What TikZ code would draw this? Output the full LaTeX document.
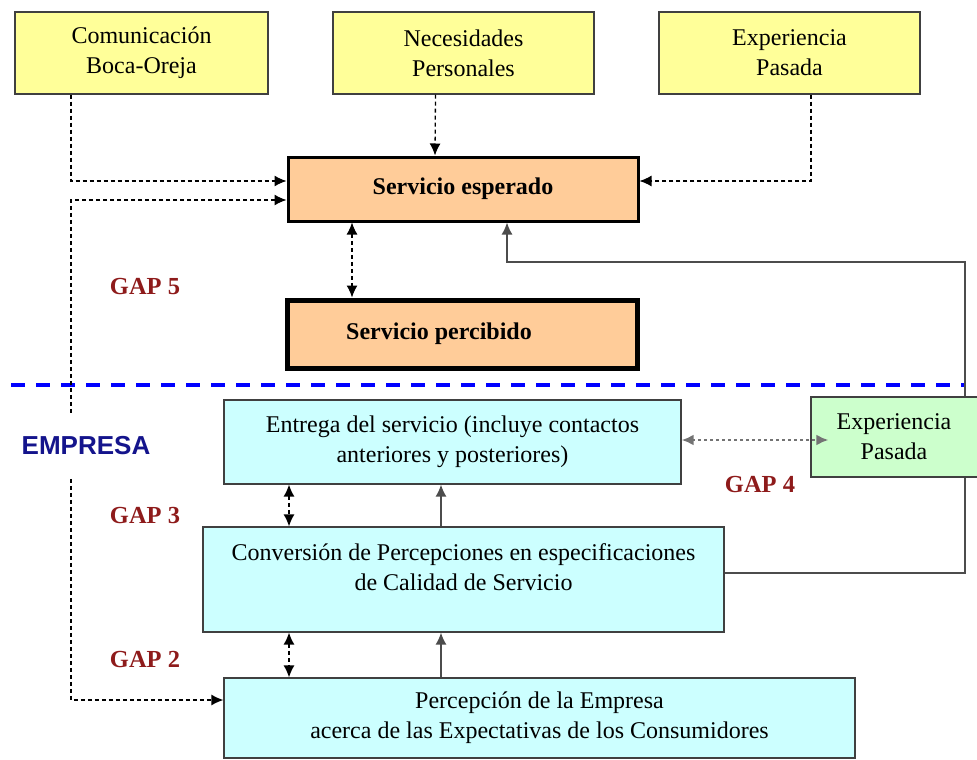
\documentclass[tikz,border=0pt]{standalone}
\usepackage{fontspec}
\setmainfont{Liberation Serif}
\newfontfamily\empresafont{Liberation Sans}
\usetikzlibrary{arrows.meta}
\definecolor{amarillo}{HTML}{FFFF99}
\definecolor{salmon}{HTML}{FFCC99}
\definecolor{celeste}{HTML}{CCFFFF}
\definecolor{verdeclaro}{HTML}{CCFFCC}
\definecolor{rojogap}{HTML}{8E1B1B}
\definecolor{azulempresa}{HTML}{14148C}
\begin{document}
\begin{tikzpicture}[x=1pt,y=-1pt,
   box/.style={draw=black!75,line width=1.2pt,align=center,inner sep=0pt,
               font=\fontsize{24}{30}\selectfont},
   cliente/.style={box,fill=amarillo,minimum width=261pt,minimum height=82pt},
   servicio/.style={box,draw=black,fill=salmon,minimum width=350pt},
   empresa/.style={box,fill=celeste},
   gap/.style={text=rojogap,font=\fontsize{24.5}{28}\selectfont\bfseries},
   tip/.style={-{Latex[length=12pt,width=11pt]}},
   flujo/.style={tip,dash pattern=on 4pt off 3pt,line width=1.3pt},
   doble/.style={flujo,{Latex[length=12pt,width=11pt]}-{Latex[length=12pt,width=11pt]}},
   solido/.style={tip,draw=black!70,line width=1.6pt},
   frontera/.style={draw=blue,line width=4pt,dash pattern=on 14pt off 11pt}]

\useasboundingbox (0,0) rectangle (977,760);

% columnas de los conectores
\coordinate (izq) at (71,0);
\coordinate (colG) at (352,0);
\coordinate (colA) at (289,0);
\coordinate (colB) at (441,0);

% clientes
\node[cliente,minimum width=253pt] (boca) at (141.5,53) {Comunicación\\Boca-Oreja};
\node[cliente] (neces) at (463.5,53) {Necesidades\\Personales};
\node[cliente] (exper) at (789.5,53) {Experiencia\\Pasada};

\node[servicio,line width=3pt,minimum height=64pt] (esp) at (463,189)
   {\bfseries Servicio esperado};
\node[servicio,line width=5pt,minimum height=68pt] (perc) at (462,334)
   {\bfseries Servicio percibido\hspace*{46pt}};

% empresa
\node[empresa,minimum width=457pt,minimum height=84pt] (entrega) at (452.5,442)
   {Entrega del servicio (incluye contactos\\anteriores y posteriores)};
\node[empresa,minimum width=521pt,minimum height=105pt] (conv) at (463.5,579.5)
   {Conversión de Percepciones en especificaciones\\de Calidad de Servicio\\[-6pt]\mbox{}};
\node[empresa,minimum width=631pt,minimum height=80pt] (pcp) at (539.5,718)
   {Percepción de la Empresa\\acerca de las Expectativas de los Consumidores};

\draw[frontera] (11,385) -- (965,385);

\draw[flujo] (boca.south -| izq) |- ([yshift=8pt]esp.west);
\draw[flujo] ([xshift=-28pt]neces.south) -- ([xshift=-28pt]esp.north);
\draw[flujo] ([xshift=21.5pt]exper.south) |- ([yshift=8pt]esp.east);
\draw[doble] ([yshift=-11pt]esp.west) -| (71,700) -- ([yshift=18pt]pcp.west);
\draw[doble] (esp.south -| colG) -- (perc.north -| colG);

\draw[solido] ([yshift=6.5pt]conv.east) -| (965,262) -| ([xshift=44pt]esp.south);

\node[box,fill=verdeclaro,minimum width=180pt,minimum height=80pt] (pasada) at (901,437)
   {Experiencia\hspace*{14pt}\\Pasada\hspace*{14pt}};

\draw[doble,draw=black!55,dash pattern=on 3pt off 3pt,line width=2.4pt]
   ([yshift=2pt]entrega.east) -- ([xshift=18pt,yshift=-3pt]pasada.west);

\draw[doble] (entrega.south -| colA) -- (conv.north -| colA);
\draw[solido] (conv.north -| colB) -- (entrega.south -| colB);
\draw[doble] (conv.south -| colA) -- (pcp.north -| colA);
\draw[solido] (pcp.north -| colB) -- (conv.south -| colB);

% etiquetas
\node[gap] (gap5) at (145,287) {GAP 5};
\node[gap] (gap3) at (145,516) {GAP 3};
\node[gap] (gap2) at (145,660) {GAP 2};
\node[gap] (gap4) at (760,485) {GAP 4};
\node[fill=white,minimum height=64pt,inner xsep=1pt,text=azulempresa,
      font=\empresafont\fontsize{26}{29}\selectfont\bfseries] (empresa) at (86,446) {EMPRESA};

\end{tikzpicture}
\end{document}
